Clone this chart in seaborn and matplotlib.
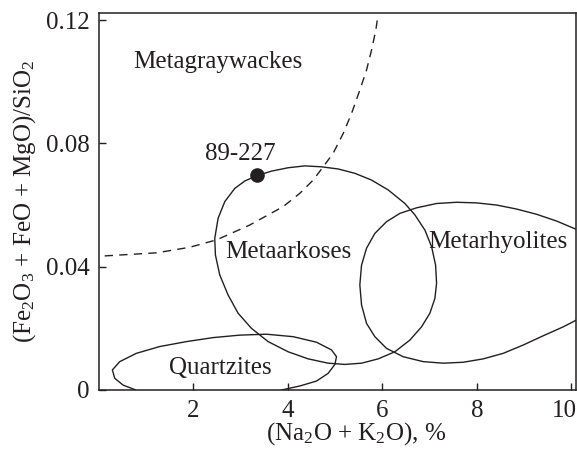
import matplotlib
matplotlib.use("Agg")
import matplotlib.pyplot as plt
import matplotlib.transforms as mtransforms
import seaborn as sns

# ---- data ----
dashed_x = [0.12, 1.22, 1.92, 2.49, 3.19, 3.90, 4.252, 4.535, 4.747, 4.958, 5.170, 5.347, 5.523, 5.665,
            5.771, 5.862, 5.898]
dashed_y = [0.0435, 0.0445, 0.0463, 0.0487, 0.0535, 0.0595, 0.0638, 0.0681, 0.0724, 0.0768, 0.0832, 0.0897,
            0.0973, 0.1038, 0.1103, 0.1168, 0.1206]

arkose_x = [3.334, 3.652, 4.005, 4.358, 4.711, 5.064, 5.417, 5.771, 6.124, 6.477, 6.689, 6.900, 7.042,
            7.127, 7.148, 7.112, 7.006, 6.830, 6.583, 6.265, 5.912, 5.559, 5.206, 4.852, 4.429, 4.005,
            3.581, 3.228, 2.946, 2.734, 2.557, 2.465, 2.451, 2.522, 2.663, 2.875, 3.087, 3.334]
arkose_y = [0.0695, 0.0710, 0.0721, 0.0727, 0.0724, 0.0717, 0.0703, 0.0681, 0.0649, 0.0605, 0.0568, 0.0519, 0.0465,
            0.0405, 0.0346, 0.0297, 0.0249, 0.0205, 0.0162, 0.0124, 0.0101, 0.0087, 0.0083, 0.0087, 0.0101, 0.0124,
            0.0157, 0.0200, 0.0249, 0.0308, 0.0373, 0.0438, 0.0492, 0.0557, 0.0611, 0.0654, 0.0678, 0.0695]

rhyolite_x = [10.11, 9.690, 9.266, 8.843, 8.419, 7.995, 7.571, 7.148, 6.724, 6.371, 6.088, 5.841, 5.665,
              5.559, 5.523, 5.559, 5.665, 5.841, 6.088, 6.441, 6.865, 7.289, 7.712, 8.136, 8.560, 8.984,
              9.407, 9.831, 10.11]
rhyolite_y = [0.0521, 0.0548, 0.0570, 0.0587, 0.0600, 0.0607, 0.0609, 0.0605, 0.0591, 0.0573, 0.0546, 0.0508, 0.0460,
              0.0405, 0.0341, 0.0276, 0.0216, 0.0173, 0.0135, 0.0108, 0.0092, 0.0087, 0.0090, 0.0101, 0.0119, 0.0146,
              0.0176, 0.0205, 0.0227]

quartz_x = [3.864, 4.252, 4.605, 4.852, 4.994, 5.029, 4.923, 4.605, 4.111, 3.546, 2.981, 2.416, 1.851,
            1.286, 0.792, 0.439, 0.283, 0.333, 0.509, 0.778]
quartz_y = [0.0, 0.0013, 0.0029, 0.0054, 0.0083, 0.0108, 0.0130, 0.0155, 0.0173, 0.0181, 0.0178, 0.0170, 0.0157,
            0.0141, 0.0119, 0.0092, 0.0065, 0.0038, 0.0016, 0.0]

sample_x = [3.335]
sample_y = [0.0697]
sample_label = "89-227"

region_names = ["Metagraywackes", "Metaarkoses", "Metarhyolites", "Quartzites"]
region_lx = [2.52, 4.0, 8.45, 2.56]
region_ly = [0.1065, 0.0449, 0.0481, 0.0070]

xticks = [2, 4, 6, 8, 10]
yticks = [0, 0.04, 0.08, 0.12]
ytick_labels = ["0", "0.04", "0.08", "0.12"]

# ---- style ----
sns.set_theme(style="ticks")
INK = "#231f20"
plt.rcParams["font.family"] = ["Liberation Serif", "DejaVu Serif"]
plt.rcParams["mathtext.fontset"] = "custom"
plt.rcParams["mathtext.rm"] = "Liberation Serif"
plt.rcParams["mathtext.it"] = "Liberation Serif:italic"
plt.rcParams["mathtext.bf"] = "Liberation Serif:bold"

FS = 18
fig = plt.figure(figsize=(5.77, 4.49), dpi=100)
ax = fig.add_axes([99 / 577, (449 - 390) / 449, 477 / 577, 377 / 449])

lw = 1.0
sns.lineplot(x=dashed_x, y=dashed_y, sort=False, estimator=None, ax=ax, color=INK, lw=lw,
             linestyle=(0, (6, 4.5)))
sns.lineplot(x=arkose_x, y=arkose_y, sort=False, estimator=None, ax=ax, color=INK, lw=lw)
sns.lineplot(x=rhyolite_x, y=rhyolite_y, sort=False, estimator=None, ax=ax, color=INK, lw=lw)
sns.lineplot(x=quartz_x, y=quartz_y, sort=False, estimator=None, ax=ax, color=INK, lw=lw)
sns.scatterplot(x=sample_x, y=sample_y, ax=ax, color=INK, s=110, edgecolor=INK, linewidth=0, zorder=5)

ax.text(2.985, 0.0766, sample_label, ha="center", va="center", fontsize=FS, color=INK)
for name, lx, ly in zip(region_names, region_lx, region_ly):
    ax.text(lx, ly, name, ha="center", va="center", fontsize=FS, color=INK)

ax.set_xlim(0, 10.1)
ax.set_ylim(0, 0.1223)
ax.set_xticks(xticks)
ax.set_xticklabels([str(t) for t in xticks])
ax.set_yticks(yticks)
ax.set_yticklabels(ytick_labels)
ax.tick_params(direction="in", length=5, width=1.0, colors=INK, labelsize=FS, labelcolor=INK)
ax.tick_params(axis="x", pad=7)
ax.tick_params(axis="y", pad=7)
for side in ["left", "bottom", "right", "top"]:
    ax.spines[side].set_visible(True)
    ax.spines[side].set_color(INK)
    ax.spines[side].set_linewidth(1.1)

# shift the last x tick label left so it stays inside the figure
last = ax.get_xticklabels()[-1]
last.set_transform(last.get_transform() + mtransforms.ScaledTranslation(-7 / 100, 0, fig.dpi_scale_trans))

ax.set_xlabel(r"(Na$_2$O + K$_2$O), %", fontsize=FS, color=INK)
ax.xaxis.set_label_coords((356 - 99) / 477, (390 - 447) / 377)
ax.xaxis.label.set_va("bottom")
ax.set_ylabel(r"(Fe$_2$O$_3$ + FeO + MgO)/SiO$_2$", fontsize=FS, color=INK)
ax.yaxis.set_label_coords((38 - 99) / 477, 0.5)

fig.savefig("out.png", dpi=100)
